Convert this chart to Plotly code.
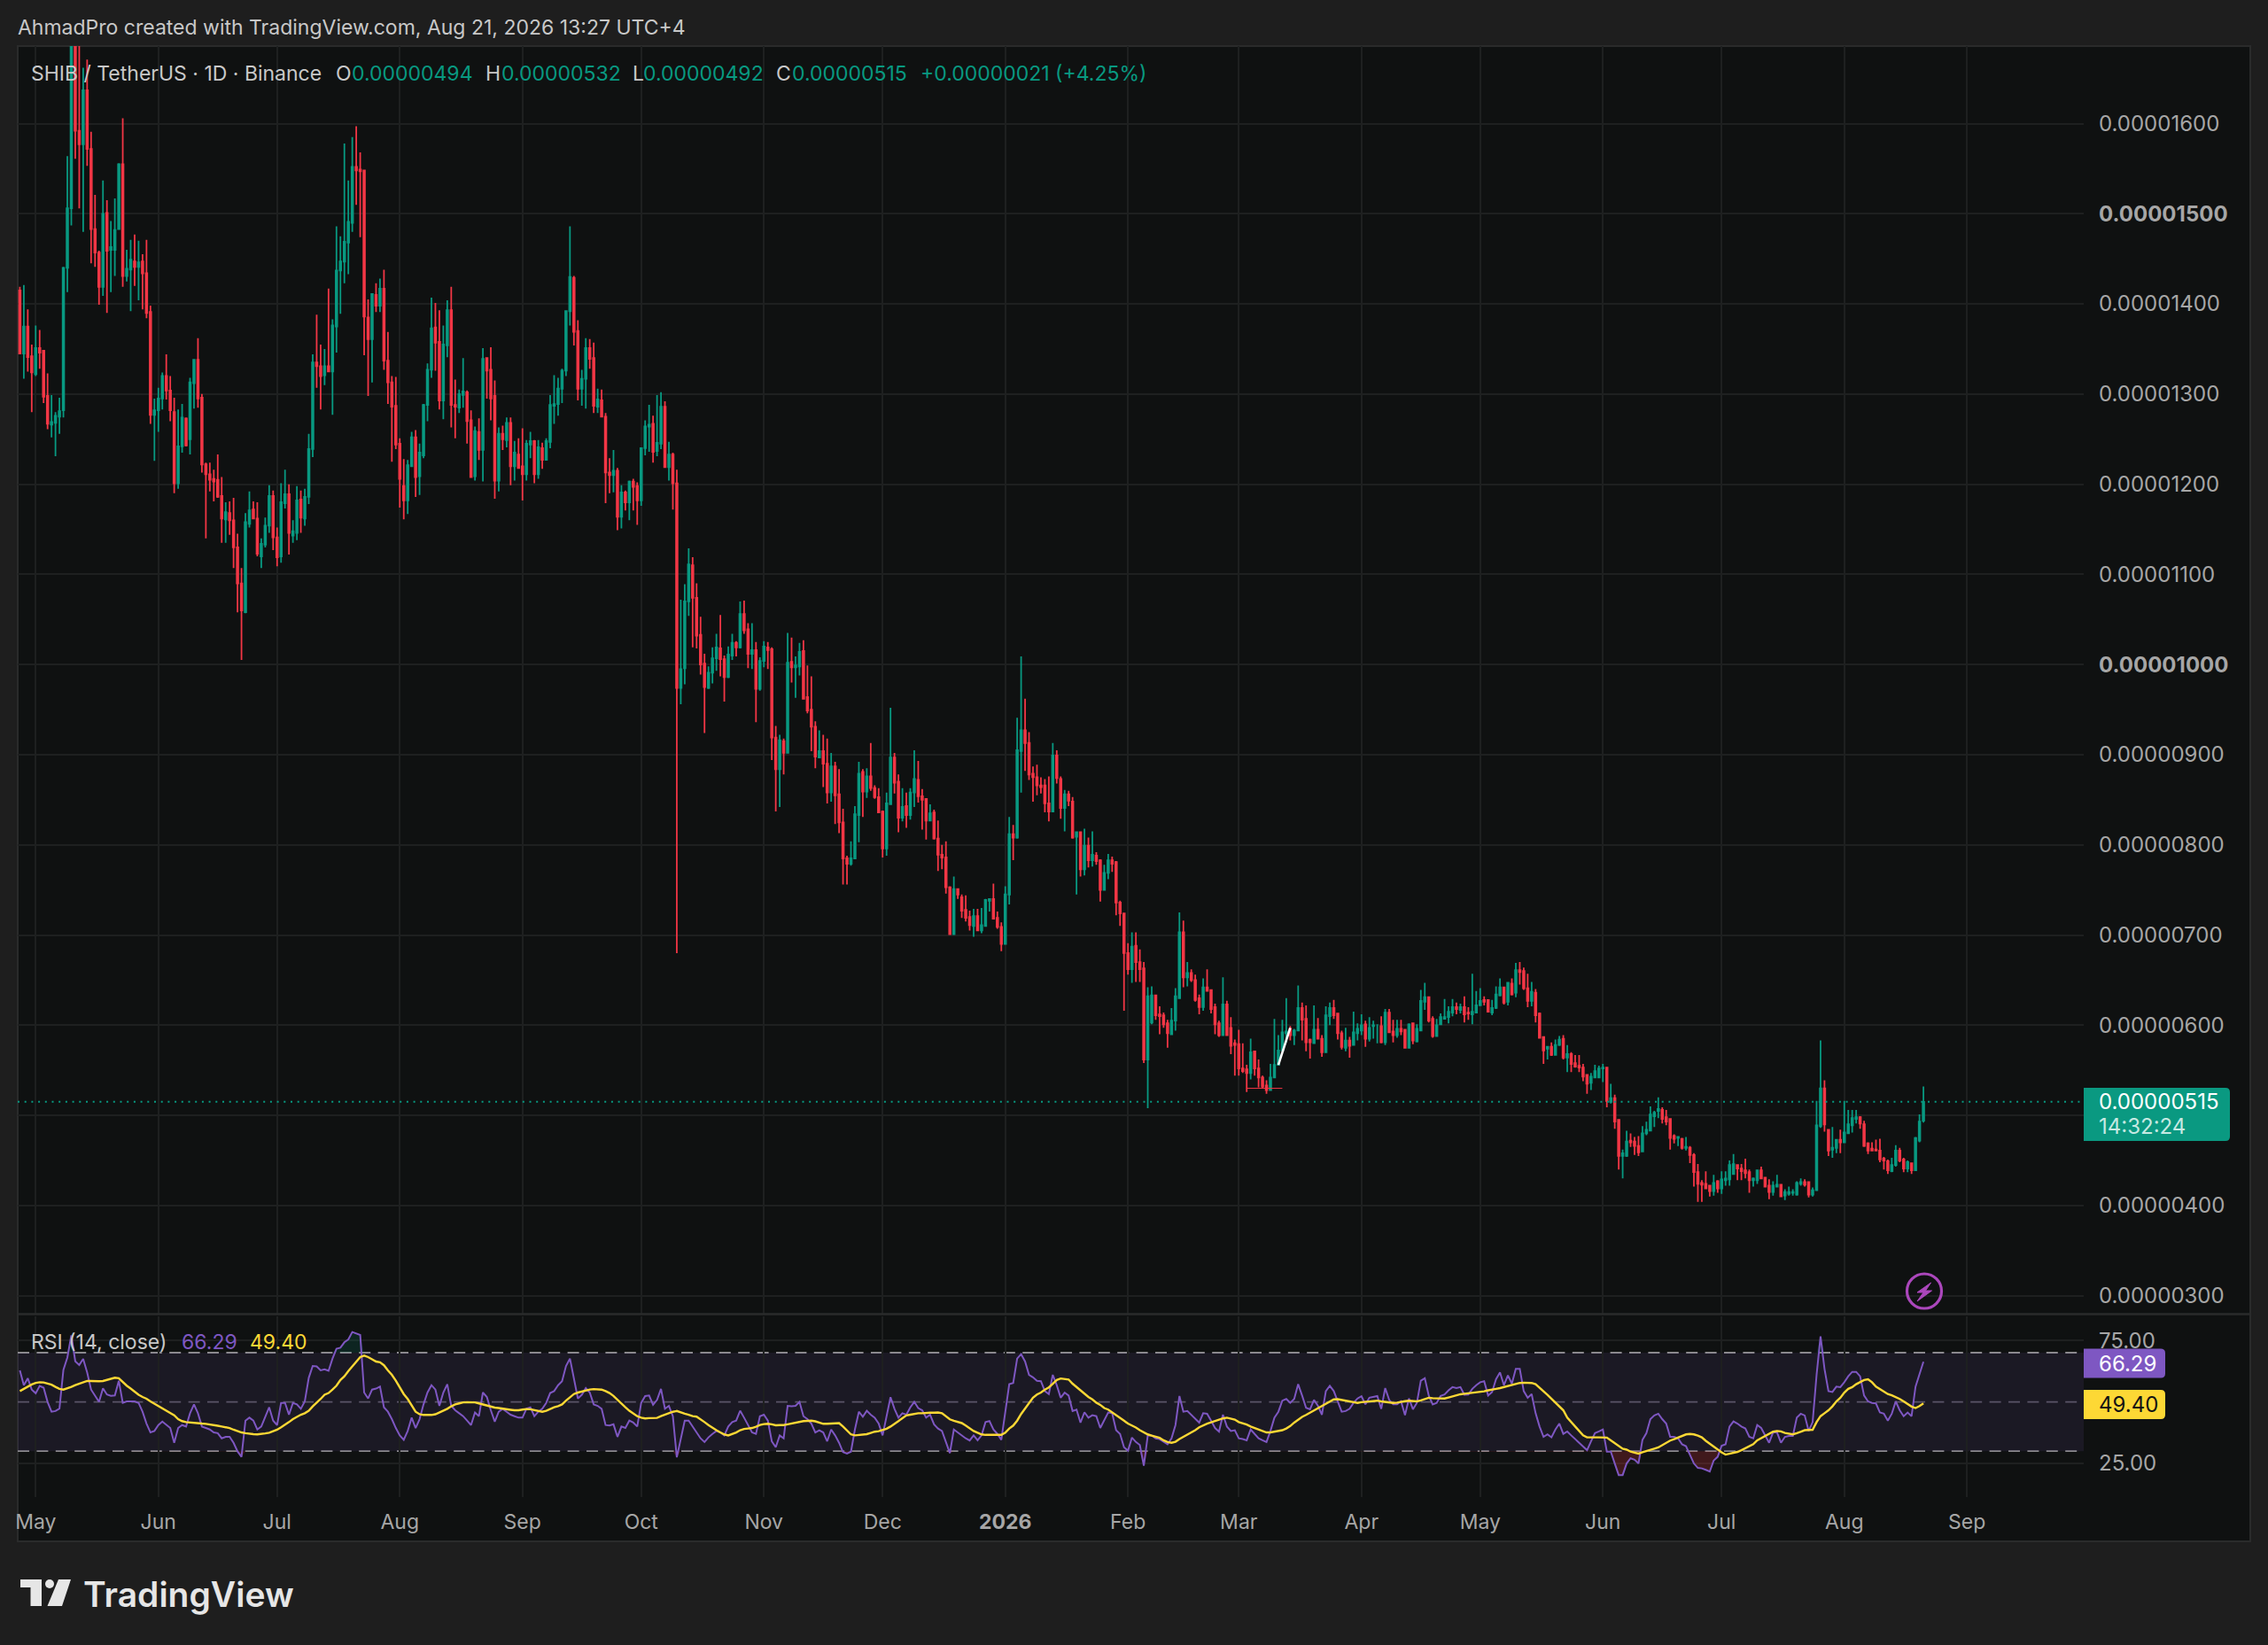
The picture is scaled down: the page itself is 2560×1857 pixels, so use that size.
import numpy as np
import pandas as pd
import plotly.graph_objects as go

# prices are in units of 0.00000001 SHIB/USDT, one candle per day
opens = [
    1415, 1345, 1375, 1342, 1322, 1351, 1348, 1298, 1266, 1268,
    1275, 1282, 1440, 1506, 1685, 1592, 1577, 1637, 1572, 1483,
    1457, 1419, 1501, 1460, 1460, 1483, 1555, 1431, 1438, 1447,
    1441, 1447, 1434, 1391, 1277, 1282, 1295, 1320, 1304, 1280,
    1201, 1242, 1273, 1250, 1312, 1338, 1296, 1222, 1211, 1206,
    1205, 1187, 1161, 1168, 1160, 1130, 1090, 1058, 1156, 1172,
    1162, 1120, 1133, 1154, 1187, 1141, 1120, 1179, 1189, 1143,
    1146, 1183, 1162, 1186, 1239, 1335, 1331, 1321, 1331, 1325,
    1375, 1437, 1447, 1468, 1490, 1552, 1549, 1548, 1385, 1361,
    1410, 1398, 1417, 1337, 1313, 1287, 1245, 1198, 1182, 1220,
    1252, 1209, 1232, 1288, 1327, 1374, 1358, 1293, 1354, 1393,
    1288, 1285, 1299, 1302, 1271, 1209, 1258, 1238, 1340, 1327,
    1298, 1204, 1256, 1249, 1268, 1220, 1233, 1220, 1211, 1244,
    1248, 1211, 1240, 1227, 1247, 1287, 1289, 1306, 1326, 1392,
    1429, 1370, 1306, 1317, 1351, 1340, 1286, 1293, 1275, 1213,
    1210, 1215, 1164, 1191, 1180, 1203, 1198, 1182, 1240, 1264,
    1267, 1237, 1245, 1286, 1219, 1233, 1201, 974, 996, 1070,
    1110, 1074, 1033, 1001, 974, 991, 1007, 1018, 1006, 986,
    1010, 1024, 1019, 1056, 1039, 1012, 1016, 973, 1004, 1019,
    1017, 919, 884, 915, 902, 1003, 997, 998, 1015, 964,
    950, 931, 897, 904, 890, 858, 887, 856, 825, 785,
    779, 785, 833, 881, 859, 876, 863, 853, 837, 796,
    845, 897, 870, 830, 843, 833, 858, 872, 854, 851,
    827, 836, 807, 789, 786, 753, 701, 751, 742, 728,
    720, 710, 721, 705, 710, 738, 740, 719, 709, 690,
    745, 812, 808, 904, 927, 913, 879, 875, 866, 866,
    846, 837, 899, 873, 841, 856, 848, 809, 814, 773,
    799, 783, 788, 783, 750, 769, 783, 781, 736, 724,
    680, 662, 688, 670, 663, 562, 603, 633, 612, 611,
    602, 590, 605, 630, 703, 653, 658, 650, 630, 620,
    642, 639, 620, 602, 589, 623, 597, 580, 579, 552,
    551, 547, 571, 552, 542, 533, 528, 542, 556, 572,
    591, 596, 589, 594, 619, 607, 584, 580, 595, 585,
    570, 610, 619, 613, 591, 575, 583, 578, 591, 594,
    601, 585, 599, 600, 599, 581, 614, 593, 589, 596,
    595, 575, 602, 582, 594, 626, 631, 607, 588, 601,
    607, 609, 614, 620, 617, 620, 614, 612, 614, 622,
    628, 628, 614, 619, 633, 642, 626, 646, 636, 661,
    660, 641, 627, 636, 613, 587, 574, 576, 567, 578,
    585, 564, 568, 558, 555, 553, 545, 536, 542, 542,
    552, 553, 515, 519, 495, 455, 455, 472, 471, 466,
    460, 480, 483, 499, 505, 506, 498, 496, 477, 475,
    474, 464, 464, 456, 437, 425, 424, 422, 416, 427,
    419, 428, 429, 435, 445, 441, 439, 437, 428, 428,
    439, 431, 422, 415, 421, 423, 411, 413, 414, 412,
    424, 426, 426, 412, 417, 488, 530, 484, 462, 464,
    473, 470, 480, 489, 496, 498, 490, 469, 463, 462,
    461, 452, 449, 438, 445, 461, 451, 441, 447, 439,
    472, 494,
]
closes = [
    1345, 1375, 1341, 1324, 1351, 1346, 1297, 1267, 1269, 1276,
    1281, 1440, 1506, 1685, 1592, 1577, 1637, 1572, 1483, 1457,
    1419, 1500, 1459, 1463, 1482, 1555, 1431, 1439, 1449, 1441,
    1446, 1434, 1390, 1277, 1282, 1295, 1320, 1304, 1282, 1201,
    1242, 1274, 1243, 1313, 1338, 1295, 1222, 1211, 1205, 1203,
    1186, 1162, 1169, 1160, 1130, 1090, 1060, 1158, 1171, 1162,
    1123, 1134, 1154, 1187, 1141, 1119, 1180, 1189, 1146, 1148,
    1182, 1163, 1186, 1239, 1335, 1331, 1320, 1331, 1325, 1376,
    1437, 1447, 1469, 1491, 1552, 1548, 1547, 1386, 1361, 1411,
    1398, 1417, 1337, 1313, 1286, 1244, 1206, 1182, 1221, 1252,
    1208, 1235, 1288, 1327, 1373, 1357, 1293, 1355, 1393, 1288,
    1286, 1300, 1303, 1270, 1208, 1259, 1238, 1339, 1326, 1295,
    1204, 1256, 1250, 1268, 1220, 1235, 1218, 1211, 1245, 1248,
    1211, 1241, 1227, 1248, 1288, 1289, 1306, 1326, 1392, 1430,
    1369, 1306, 1317, 1351, 1339, 1287, 1294, 1275, 1213, 1210,
    1215, 1164, 1191, 1180, 1203, 1197, 1182, 1240, 1264, 1266,
    1236, 1246, 1286, 1219, 1233, 1201, 974, 995, 1070, 1111,
    1074, 1032, 1000, 975, 991, 1007, 1019, 1006, 986, 1011,
    1024, 1019, 1056, 1038, 1012, 1016, 973, 1004, 1020, 1016,
    919, 884, 916, 902, 1002, 997, 999, 1014, 962, 949,
    931, 898, 904, 890, 858, 887, 855, 825, 785, 779,
    785, 834, 879, 859, 876, 863, 853, 836, 796, 846,
    897, 869, 830, 842, 833, 858, 873, 854, 850, 827,
    835, 807, 789, 786, 753, 701, 751, 745, 727, 719,
    711, 721, 705, 711, 739, 740, 718, 709, 690, 745,
    812, 808, 905, 927, 913, 878, 875, 866, 864, 846,
    837, 899, 874, 841, 856, 849, 808, 814, 773, 799,
    783, 789, 782, 750, 769, 783, 779, 736, 724, 680,
    662, 687, 670, 662, 562, 632, 633, 611, 610, 601,
    591, 605, 632, 703, 653, 658, 650, 628, 620, 642,
    638, 618, 601, 589, 623, 589, 577, 578, 552, 549,
    547, 570, 552, 542, 532, 528, 542, 556, 572, 592,
    593, 589, 594, 619, 606, 581, 581, 595, 585, 570,
    611, 619, 611, 591, 576, 583, 577, 592, 596, 600,
    585, 597, 600, 600, 581, 614, 592, 589, 596, 593,
    575, 601, 583, 596, 627, 631, 605, 588, 600, 609,
    609, 615, 620, 618, 620, 612, 613, 615, 622, 627,
    626, 615, 619, 634, 642, 625, 647, 634, 661, 659,
    641, 627, 637, 611, 586, 572, 576, 567, 578, 584,
    564, 568, 557, 554, 553, 543, 535, 543, 549, 552,
    553, 516, 519, 493, 455, 458, 471, 470, 466, 459,
    480, 484, 501, 503, 507, 496, 493, 475, 474, 476,
    464, 465, 456, 437, 424, 423, 419, 416, 425, 419,
    429, 430, 445, 446, 441, 438, 436, 428, 430, 439,
    430, 421, 415, 422, 423, 410, 415, 415, 415, 425,
    426, 423, 412, 417, 489, 530, 490, 461, 464, 473,
    470, 481, 490, 497, 498, 491, 466, 461, 461, 461,
    451, 450, 439, 445, 461, 450, 441, 448, 439, 475,
    493, 515,
]
highs = [
    1419, 1421, 1394, 1355, 1376, 1371, 1349, 1323, 1299, 1280,
    1296, 1441, 1564, 1720, 1730, 1720, 1662, 1671, 1591, 1521,
    1459, 1537, 1515, 1492, 1517, 1556, 1606, 1460, 1471, 1477,
    1470, 1455, 1471, 1398, 1295, 1307, 1324, 1344, 1320, 1296,
    1283, 1289, 1274, 1318, 1338, 1362, 1300, 1224, 1224, 1216,
    1233, 1208, 1180, 1181, 1185, 1145, 1107, 1168, 1192, 1181,
    1180, 1140, 1163, 1199, 1193, 1152, 1201, 1216, 1200, 1160,
    1198, 1193, 1195, 1256, 1344, 1388, 1355, 1350, 1417, 1383,
    1486, 1475, 1578, 1537, 1585, 1597, 1568, 1548, 1405, 1411,
    1423, 1428, 1438, 1369, 1320, 1319, 1251, 1228, 1227, 1258,
    1260, 1245, 1289, 1334, 1407, 1401, 1393, 1376, 1404, 1419,
    1316, 1305, 1340, 1304, 1282, 1264, 1273, 1351, 1341, 1352,
    1315, 1263, 1265, 1274, 1274, 1248, 1251, 1262, 1249, 1258,
    1249, 1249, 1246, 1251, 1299, 1321, 1318, 1328, 1393, 1486,
    1431, 1382, 1327, 1362, 1361, 1357, 1306, 1305, 1279, 1229,
    1238, 1218, 1199, 1193, 1204, 1206, 1202, 1241, 1271, 1288,
    1276, 1299, 1302, 1292, 1247, 1235, 1216, 1072, 1089, 1129,
    1119, 1090, 1053, 1012, 998, 1019, 1034, 1055, 1010, 1020,
    1034, 1026, 1070, 1071, 1046, 1046, 1025, 1008, 1026, 1025,
    1019, 932, 922, 918, 1035, 1030, 1009, 1024, 1027, 999,
    987, 937, 927, 922, 918, 902, 892, 884, 840, 788,
    804, 843, 892, 884, 885, 913, 866, 863, 838, 858,
    952, 902, 878, 863, 858, 863, 905, 893, 862, 851,
    845, 839, 827, 800, 804, 754, 765, 751, 745, 744,
    727, 729, 729, 730, 740, 740, 757, 726, 714, 754,
    831, 822, 941, 1009, 962, 925, 887, 889, 875, 873,
    876, 913, 905, 876, 861, 860, 853, 815, 815, 818,
    808, 815, 792, 784, 778, 790, 787, 782, 738, 724,
    691, 703, 703, 684, 670, 642, 643, 633, 621, 614,
    606, 619, 641, 725, 716, 670, 662, 656, 634, 652,
    662, 639, 624, 605, 653, 627, 609, 584, 595, 580,
    556, 585, 571, 562, 544, 539, 557, 607, 589, 606,
    630, 599, 596, 644, 625, 622, 585, 622, 608, 589,
    621, 625, 628, 613, 594, 597, 587, 615, 602, 612,
    605, 609, 605, 601, 610, 618, 618, 606, 606, 606,
    596, 602, 603, 601, 639, 647, 631, 610, 607, 613,
    629, 621, 629, 625, 624, 632, 620, 657, 638, 641,
    632, 628, 628, 643, 652, 642, 648, 652, 669, 670,
    664, 657, 648, 640, 614, 587, 576, 581, 584, 588,
    589, 578, 570, 567, 567, 557, 545, 547, 556, 555,
    557, 554, 535, 523, 496, 462, 483, 480, 476, 477,
    488, 493, 510, 505, 520, 509, 506, 496, 479, 477,
    475, 476, 466, 458, 446, 428, 438, 423, 434, 428,
    438, 438, 450, 457, 445, 446, 452, 440, 431, 440,
    443, 431, 429, 427, 434, 423, 418, 421, 418, 427,
    430, 429, 426, 420, 516, 583, 539, 484, 487, 473,
    484, 516, 506, 506, 506, 499, 494, 470, 470, 473,
    474, 454, 451, 453, 467, 464, 453, 450, 447, 476,
    501, 532,
]
lows = [
    1344, 1317, 1325, 1280, 1320, 1328, 1290, 1261, 1252, 1231,
    1256, 1274, 1413, 1487, 1561, 1506, 1480, 1553, 1445, 1441,
    1399, 1409, 1390, 1413, 1431, 1483, 1419, 1425, 1392, 1420,
    1404, 1394, 1384, 1267, 1226, 1258, 1283, 1294, 1270, 1190,
    1195, 1235, 1242, 1233, 1284, 1285, 1213, 1140, 1192, 1181,
    1185, 1135, 1135, 1144, 1107, 1058, 1005, 1057, 1152, 1162,
    1120, 1107, 1130, 1146, 1127, 1109, 1113, 1173, 1122, 1135,
    1138, 1146, 1154, 1178, 1230, 1307, 1283, 1310, 1325, 1277,
    1346, 1389, 1423, 1433, 1480, 1510, 1474, 1343, 1298, 1313,
    1391, 1391, 1327, 1289, 1225, 1239, 1174, 1161, 1167, 1220,
    1186, 1188, 1229, 1270, 1318, 1326, 1283, 1272, 1341, 1263,
    1251, 1279, 1285, 1245, 1207, 1204, 1227, 1203, 1295, 1271,
    1184, 1192, 1238, 1241, 1199, 1204, 1217, 1182, 1204, 1229,
    1201, 1206, 1217, 1227, 1240, 1267, 1276, 1290, 1320, 1376,
    1354, 1293, 1287, 1284, 1328, 1279, 1279, 1275, 1179, 1190,
    1191, 1149, 1151, 1171, 1160, 1171, 1155, 1176, 1232, 1236,
    1224, 1231, 1239, 1218, 1204, 1172, 680, 956, 978, 1054,
    1019, 1018, 989, 924, 973, 979, 993, 987, 959, 985,
    1005, 1009, 1018, 1034, 996, 995, 936, 971, 997, 995,
    894, 837, 842, 878, 902, 980, 963, 988, 962, 946,
    904, 885, 896, 864, 846, 848, 823, 813, 756, 756,
    777, 784, 803, 831, 852, 860, 851, 836, 786, 788,
    845, 857, 814, 826, 819, 828, 842, 847, 817, 806,
    827, 806, 771, 773, 746, 701, 700, 740, 719, 715,
    705, 698, 705, 702, 710, 726, 718, 707, 682, 690,
    734, 783, 807, 858, 882, 872, 848, 855, 857, 836,
    826, 836, 868, 829, 815, 843, 807, 745, 765, 766,
    775, 776, 778, 737, 750, 762, 770, 722, 710, 616,
    656, 647, 648, 648, 558, 508, 601, 606, 590, 597,
    575, 590, 594, 630, 642, 643, 648, 626, 612, 616,
    638, 613, 590, 587, 589, 588, 568, 544, 544, 547,
    526, 540, 544, 531, 530, 524, 527, 541, 556, 571,
    581, 583, 578, 594, 583, 571, 563, 580, 584, 565,
    569, 600, 607, 584, 573, 571, 564, 578, 583, 589,
    576, 582, 585, 580, 580, 578, 592, 581, 586, 589,
    574, 574, 579, 581, 594, 617, 603, 586, 588, 601,
    607, 602, 610, 612, 613, 603, 606, 601, 614, 622,
    622, 614, 611, 618, 632, 623, 622, 633, 631, 645,
    639, 620, 621, 603, 585, 557, 562, 566, 567, 577,
    562, 548, 548, 553, 548, 538, 524, 528, 542, 541,
    537, 509, 513, 485, 440, 430, 454, 465, 456, 455,
    460, 478, 483, 487, 497, 491, 489, 462, 469, 466,
    462, 461, 447, 421, 404, 404, 419, 410, 411, 414,
    413, 422, 422, 435, 428, 428, 430, 414, 421, 424,
    430, 420, 407, 411, 420, 410, 406, 411, 411, 411,
    422, 421, 409, 410, 417, 486, 482, 455, 453, 458,
    458, 470, 480, 481, 491, 485, 465, 457, 461, 460,
    448, 440, 435, 437, 443, 448, 437, 437, 435, 439,
    470, 492,
]
rsi = [
    62.8, 56.8, 59.6, 55, 53.5, 56.5, 55.8, 50, 46, 46.3,
    47.3, 63, 68, 77, 66.5, 65, 67.5, 62, 55, 52.5,
    50, 55.5, 53, 52.5, 52.6, 58.6, 49.6, 50.2, 50.2, 50.2,
    49.6, 46, 41.2, 37.6, 38.2, 40.6, 42, 40.6, 39.4, 33.4,
    39.4, 40.6, 40, 45.4, 49, 45.4, 40, 39.4, 38.8, 37.6,
    37.3, 35.2, 35.8, 35.8, 33.4, 29.9, 27.7, 42.4, 43.6, 42.4,
    38.8, 40, 43.6, 47.8, 42.4, 40.6, 49.6, 49.6, 44.8, 49.6,
    49, 47.2, 50.2, 59.8, 64.6, 64.4, 62.8, 63.2, 62.6, 67.6,
    71.6, 72, 74.2, 75.4, 78.4, 77.8, 77.2, 53.8, 51.4, 55,
    55.4, 56.2, 47.8, 46, 43, 39.4, 36.4, 34.6, 38.2, 43.6,
    39.4, 43, 49, 53.8, 56.8, 55, 48.4, 53.8, 57.2, 48.4,
    46.6, 45.4, 44.2, 42.4, 40.6, 45.7, 44.2, 53.8, 52, 46.6,
    42, 46, 47.2, 46, 44.8, 44.2, 43.6, 43.6, 47.2, 47.8,
    44.2, 46, 47.2, 49.6, 53.6, 54.4, 56.8, 58.4, 64.6, 67.6,
    59.8, 51.4, 52.9, 55.6, 53.8, 49, 48.4, 47.2, 40.6, 40.4,
    40.9, 35.8, 40, 39.4, 42.4, 41.6, 40, 49.6, 52.4, 52.6,
    48.8, 50.8, 55.3, 47.2, 48.4, 44.2, 27.5, 34.6, 42.4, 42.4,
    40, 37.6, 35.2, 33.7, 35.6, 37, 38.2, 37.6, 36.4, 40,
    41.8, 42.4, 46.4, 43.6, 40.6, 37.6, 37, 44.2, 44.8, 42.4,
    34, 31.6, 36.4, 35.2, 48.4, 48.2, 48.4, 50, 44.2, 43,
    41.2, 37.6, 38.5, 37.6, 34, 38.8, 36.4, 33.4, 29.6, 29,
    29.8, 38.8, 46, 44, 46.4, 44.8, 43.6, 41.2, 36.4, 44.2,
    51.9, 47.2, 43.6, 45.4, 44.8, 47.8, 50, 47.5, 46.6, 43.6,
    44.8, 40.9, 39.2, 38.2, 33.4, 29.2, 38.8, 37.6, 36.1, 35.2,
    34.3, 36.4, 34.4, 36.4, 41.8, 42.2, 38.8, 37, 34.6, 45.4,
    57.2, 57.7, 67.6, 69.4, 66.4, 61, 60, 58.6, 58.4, 54.4,
    53.2, 61, 56.8, 51.7, 53.8, 52.6, 46.3, 46.9, 41.6, 45.8,
    43.6, 44.6, 44.2, 39.4, 42.4, 45.7, 45.4, 38.5, 37, 31.6,
    30.2, 35.5, 33.7, 32.5, 24.1, 36.4, 36.4, 35.2, 34.9, 33.7,
    32.8, 35.2, 40.6, 52.4, 46, 46.3, 44.8, 43, 41.6, 45.4,
    45.2, 42.4, 39.4, 37.9, 44.8, 40, 38.2, 38.5, 35.2, 34.9,
    34.4, 38.8, 36.8, 35.2, 34.4, 33.7, 38.2, 43.6, 46, 50.5,
    51.2, 49.6, 51.2, 57.2, 52.6, 47.6, 47, 50.8, 48.4, 44.8,
    54.4, 56.5, 54.4, 50.2, 46, 46.3, 47.2, 49.6, 51.4, 52.3,
    49, 51.7, 52, 52.4, 47.2, 55.6, 50.8, 49, 49, 50.2,
    44.6, 51.4, 47, 49.6, 58.6, 59.6, 52.6, 49, 49.6, 52.4,
    53, 54.7, 56, 55.6, 56, 52.9, 53, 55.3, 56.8, 58,
    58.4, 52.6, 54, 59.2, 62, 56.8, 60.8, 57.4, 63.4, 63.4,
    54.4, 51.7, 53.2, 45.4, 40, 35.8, 36.8, 35.6, 38.8, 41.2,
    37, 38, 36.4, 34.9, 33.7, 32, 30.4, 34, 37.3, 38,
    38.8, 29.8, 29.8, 25, 20.3, 20.3, 25, 27.1, 26.5, 25,
    34.6, 37.3, 43, 44.5, 45.2, 43, 41.2, 35.8, 35.8, 35.2,
    32.8, 32, 28.6, 25, 23.2, 23, 22.4, 21.7, 26.2, 27.7,
    32.2, 32.8, 40, 42.1, 41.2, 40, 39.2, 35.8, 35.2, 40.6,
    39.4, 36.1, 33.4, 37.6, 37.6, 33.4, 35.8, 36.2, 36.2, 43.6,
    45.2, 44.5, 38.2, 41.8, 61, 76.6, 63.4, 54.4, 54, 56.2,
    56, 58, 60.4, 62.2, 62.2, 60.4, 52.6, 50.2, 49.6, 49.4,
    45.7, 45.2, 42.4, 45.2, 50.2, 46.6, 44.2, 45.7, 44.2, 56.2,
    61.6, 66.29,
]
rsi_ma = [
    54.4, 55.4, 56.2, 57.1, 57.7, 58, 57.9, 57.5, 57, 56.1,
    55.3, 55, 55.5, 56.1, 56.8, 57.4, 58, 58.5, 58.5, 58.4,
    58.4, 58.5, 58.9, 59.2, 59.8, 59.6, 58, 56.6, 55.4, 54.1,
    52.9, 52, 51.3, 50.2, 49.3, 48.4, 47.6, 46.6, 45.8, 44.6,
    43, 42.2, 41.8, 41.6, 41.4, 41.2, 41.2, 41.1, 40.9, 40.6,
    40.3, 40, 39.8, 39.4, 38.7, 38.1, 37.6, 37.3, 37, 36.9,
    36.8, 36.9, 37.2, 37.5, 38, 38.7, 39.7, 40.6, 41.8, 43,
    44, 44.8, 45.4, 46.4, 48.2, 49.6, 51.2, 52.9, 53.6, 55,
    56.6, 58.9, 60.4, 62.5, 64.4, 66.4, 68.2, 68.8, 68.2, 67.3,
    66.4, 66.1, 64.9, 62.8, 61, 58.6, 55.9, 53.2, 51.2, 48.8,
    46, 45, 44.7, 44.7, 44.7, 45, 45.7, 46.4, 47.2, 48.2,
    49, 49.4, 49.8, 49.9, 49.9, 49.8, 49.4, 49, 48.4, 48,
    47.7, 47.5, 47.2, 47, 46.8, 46.6, 46.6, 46.9, 47.1, 47,
    46.6, 46.4, 46, 46.4, 47.2, 47.8, 48.3, 49, 50.5, 52,
    53.2, 53.8, 54.2, 54.7, 55, 55.2, 55.2, 55, 54.4, 53.6,
    52.4, 50.8, 49.4, 47.8, 46.4, 45.2, 44.2, 43.6, 43.3, 43.4,
    43.4, 43.5, 44.2, 44.8, 45.4, 46, 46.3, 45.7, 45.2, 44.8,
    44.2, 44, 43, 41.8, 40.6, 39.4, 38.5, 37.6, 36.8, 36.4,
    37, 37.6, 38.5, 39, 39.2, 39.4, 39.9, 40.6, 41, 41.1,
    40.9, 40.5, 40.6, 40.6, 40.9, 41.2, 41.7, 42, 42.2, 42.3,
    42.4, 42.1, 41.6, 41.1, 41.1, 41.2, 41.4, 41.4, 40, 38.2,
    36.8, 36.4, 36.6, 36.7, 36.9, 37.4, 37.9, 38.1, 38.5, 39.1,
    40, 41, 42.2, 43.4, 44.5, 44.8, 45.2, 45.4, 45.4, 45.6,
    45.6, 45.6, 45.7, 45.4, 44.1, 42.9, 42.3, 41.8, 41.4, 40.4,
    39.2, 38.2, 37.5, 36.8, 36.6, 36.6, 36.6, 36.6, 36.6, 37.5,
    39.2, 40.4, 42.4, 45.1, 47.3, 49.6, 51.7, 53, 53.8, 55,
    55.9, 57.4, 58.9, 59.5, 59.3, 59.1, 57.4, 56, 54.7, 53.3,
    52, 51, 49.7, 48.8, 47.5, 46.9, 45.8, 44.6, 43.8, 42.4,
    41.2, 40.4, 39.6, 38.5, 37.5, 36.8, 36.3, 35.8, 35.4, 34.4,
    33.7, 33.4, 33.8, 34.9, 35.8, 36.7, 37.5, 38.5, 39.7, 40.6,
    41.2, 41.7, 42.3, 42.8, 43.3, 43.6, 43.3, 42.8, 41.8, 41.4,
    40.8, 40, 39.4, 38.8, 38.1, 37.6, 37.6, 37.9, 38, 38.5,
    39.2, 40.2, 41.6, 42.8, 43.9, 44.7, 45.6, 46.4, 47.3, 48.3,
    49, 50, 51, 51.1, 50.8, 50.6, 50.3, 50, 49.6, 49.9,
    50.1, 50.3, 50.5, 50.5, 50.2, 50, 49.7, 49.6, 49.7, 50.1,
    50.3, 50.5, 50.3, 50.2, 50.6, 51.2, 51.7, 51.5, 51.4, 51.4,
    51.4, 51.8, 52.3, 52.7, 53.1, 53.3, 53.5, 53.7, 53.8, 53.9,
    54.3, 54.7, 54.9, 55.3, 55.6, 56, 56.3, 56.8, 57.3, 57.7,
    57.8, 57.8, 57.7, 57.2, 55.9, 54.3, 52.9, 51.4, 49.6, 48.4,
    46.6, 43.6, 41.8, 40.4, 38.5, 36.4, 35.6, 35.5, 35.6, 35.6,
    35.6, 35.5, 34.4, 33.2, 32, 31, 30.6, 29.8, 29.4, 29,
    29.6, 30, 30.6, 31, 31.5, 32.5, 33.4, 34.3, 34.9, 35.5,
    36.3, 36.8, 37, 36.8, 36.3, 35.6, 34.2, 33, 31.9, 30.6,
    29.5, 28.6, 28.9, 29.2, 29.7, 30.4, 31.3, 32, 32.8, 34.4,
    35.2, 36.2, 37, 37.9, 38.2, 38, 37.4, 37, 36.8, 37.3,
    37.9, 38.5, 38.6, 38.7, 41.8, 44.2, 45.4, 46.6, 48.2, 50.2,
    51.7, 53.8, 55.3, 56, 57.2, 58, 58.9, 59.2, 58, 56.2,
    55.3, 54.4, 53.2, 52.7, 52, 51.2, 50.2, 49, 48.1, 47.5,
    48.3, 49.40,
]

first_day = "2025-04-27"
price_ticks = [300, 400, 500, 600, 700, 800, 900, 1000, 1100, 1200, 1300, 1400, 1500, 1600]
bold_price_ticks = [1000, 1500]
hidden_price_ticks = [500]  # sits behind the last price label
rsi_ticks = [25, 75]
month_starts = ["2025-05-01", "2025-06-01", "2025-07-01", "2025-08-01", "2025-09-01", "2025-10-01",
                "2025-11-01", "2025-12-01", "2026-01-01", "2026-02-01", "2026-03-01", "2026-04-01",
                "2026-05-01", "2026-06-01", "2026-07-01", "2026-08-01", "2026-09-01"]
month_labels = ["May", "Jun", "Jul", "Aug", "Sep", "Oct", "Nov", "Dec", "<b>2026</b>", "Feb", "Mar", "Apr",
                "May", "Jun", "Jul", "Aug", "Sep"]

assert len(opens) == len(closes) == len(highs) == len(lows) == len(rsi) == len(rsi_ma), (
    len(opens), len(closes), len(highs), len(lows), len(rsi), len(rsi_ma))

UNIT = 1e-8
GREEN = "#089981"
RED = "#f23645"
PURPLE = "#7e57c2"
YELLOW = "#fdd835"
TEXT = "#c8c8c8"
AXIS_TEXT = "#a6a6a6"
GRID = "#1e2020"
FONT = "Inter"

# plot area in page pixels
LEFT, RIGHT, TOP, BOTTOM = 20, 2352, 52, 1690
MAIN_BOTTOM, RSI_TOP = 1483, 1486


def px(x):
    return (x - LEFT) / (RIGHT - LEFT)


def py(y):
    return (BOTTOM - y) / (BOTTOM - TOP)


def rounded_box(x0, y0, x1, y1, r=5):
    # square on the left, rounded on the right, like the scale labels
    return (f"M {px(x0)} {py(y0)} L {px(x1 - r)} {py(y0)} Q {px(x1)} {py(y0)} {px(x1)} {py(y0 + r)} "
            f"L {px(x1)} {py(y1 - r)} Q {px(x1)} {py(y1)} {px(x1 - r)} {py(y1)} L {px(x0)} {py(y1)} Z")


def poly(points):
    return "M " + " L ".join(f"{px(x)} {py(y)}" for x, y in points) + " Z"


def label(x, y, text, color=TEXT, size=23, weight=None):
    font = dict(family=FONT, size=size, color=color)
    if weight:
        font["weight"] = weight
    return dict(xref="paper", yref="paper", x=px(x), y=py(y), text=text, showarrow=False, xanchor="left",
                yanchor="middle", align="left", borderpad=0, borderwidth=0, font=font)


def price_label(t):
    if t in hidden_price_ticks:
        return ""
    if t in bold_price_ticks:
        return f"<b>{t * UNIT:.8f}</b>"
    return f"{t * UNIT:.8f}"


dates = pd.date_range(first_day, periods=len(opens), freq="D")
rsi_arr = np.array(rsi)

fig = go.Figure()

fig.add_trace(go.Candlestick(
    x=dates,
    open=np.array(opens) * UNIT,
    high=np.array(highs) * UNIT,
    low=np.array(lows) * UNIT,
    close=np.array(closes) * UNIT,
    whiskerwidth=0,
    increasing=dict(line=dict(color=GREEN, width=1.8), fillcolor=GREEN),
    decreasing=dict(line=dict(color=RED, width=1.8), fillcolor=RED),
    showlegend=False,
    yaxis="y",
))

# overbought / oversold shading follows the RSI line itself
for level, clipped, tint in [(30, np.minimum(rsi_arr, 30), "rgba(242,54,69,0.22)"),
                             (70, np.maximum(rsi_arr, 70), "rgba(8,153,129,0.15)")]:
    fig.add_trace(go.Scatter(x=dates, y=[level] * len(dates), mode="lines", line=dict(width=0),
                             showlegend=False, hoverinfo="skip", yaxis="y2"))
    fig.add_trace(go.Scatter(x=dates, y=clipped, mode="lines", line=dict(width=0), fill="tonexty",
                             fillcolor=tint, showlegend=False, hoverinfo="skip", yaxis="y2"))

fig.add_trace(go.Scatter(x=dates, y=rsi, mode="lines", line=dict(color=PURPLE, width=2),
                         showlegend=False, yaxis="y2"))
fig.add_trace(go.Scatter(x=dates, y=rsi_ma, mode="lines", line=dict(color=YELLOW, width=2.4),
                         showlegend=False, yaxis="y2"))

shapes = [
    # chart panel and pane separator
    dict(type="rect", xref="paper", yref="paper", x0=px(20), x1=px(2540), y0=py(52), y1=py(1740),
         fillcolor="#0f1111", line=dict(color="#2a2b2b", width=2), layer="below"),
    dict(type="line", xref="paper", yref="paper", x0=px(20), x1=px(2540), y0=py(1483.5), y1=py(1483.5),
         line=dict(color="#2a2b2b", width=2.5)),
    # RSI band
    dict(type="rect", xref="x", yref="y2", x0=dates[0] - pd.Timedelta(days=6), x1="2026-10-05", y0=30, y1=70,
         fillcolor="rgba(126,87,194,0.11)", line=dict(width=0), layer="below"),
    dict(type="line", xref="paper", yref="y2", x0=0, x1=1, y0=70, y1=70,
         line=dict(color="#8c8c8c", width=1.8, dash="13px,8.4px"), layer="below"),
    dict(type="line", xref="paper", yref="y2", x0=0, x1=1, y0=50, y1=50,
         line=dict(color="#56545e", width=1.6, dash="13px,8.4px"), layer="below"),
    dict(type="line", xref="paper", yref="y2", x0=0, x1=1, y0=30, y1=30,
         line=dict(color="#8c8c8c", width=1.8, dash="13px,8.4px"), layer="below"),
    # last price line
    dict(type="line", xref="paper", yref="y", x0=0, x1=1, y0=closes[-1] * UNIT, y1=closes[-1] * UNIT,
         line=dict(color=GREEN, width=2, dash="2px,5.7px")),
    # user drawings on the chart
    dict(type="line", xref="x", yref="y", x0=dates[310], x1=dates[319], y0=530 * UNIT, y1=530 * UNIT,
         line=dict(color=RED, width=1)),
    dict(type="line", xref="x", yref="y", x0=dates[318], x1=dates[321], y0=556 * UNIT, y1=597 * UNIT,
         line=dict(color="#ffffff", width=2.6)),
    # scale labels
    dict(type="path", xref="paper", yref="paper", path=rounded_box(2352, 1228, 2517, 1288), fillcolor="#0a9981",
         line=dict(width=0)),
    dict(type="path", xref="paper", yref="paper", path=rounded_box(2352, 1522.5, 2444, 1555.5), fillcolor=PURPLE,
         line=dict(width=0)),
    dict(type="path", xref="paper", yref="paper", path=rounded_box(2352, 1569, 2444, 1602), fillcolor=YELLOW,
         line=dict(width=0)),
    # lightning badge
    dict(type="circle", xref="paper", yref="paper", x0=px(2152.5), x1=px(2191.5), y0=py(1438), y1=py(1477),
         fillcolor="rgba(0,0,0,0)", line=dict(color="#ab47bc", width=3.2)),
    dict(type="path", xref="paper", yref="paper", line=dict(color="#ab47bc", width=1), fillcolor="#ab47bc",
         path=poly([(2179.5, 1448), (2164, 1459), (2171, 1459), (2164, 1469), (2180.5, 1457), (2173.5, 1457)])),
    # TradingView mark
    dict(type="path", xref="paper", yref="paper", line=dict(width=0), fillcolor="#e6e6e6",
         path=poly([(23, 1783), (47, 1783), (47, 1813), (34.5, 1813), (34.5, 1792), (23, 1792)])),
    dict(type="circle", xref="paper", yref="paper", x0=px(51), x1=px(61), y0=py(1783), y1=py(1793),
         fillcolor="#e6e6e6", line=dict(width=0)),
    dict(type="path", xref="paper", yref="paper", line=dict(width=0), fillcolor="#e6e6e6",
         path=poly([(66, 1783), (80, 1783), (70, 1813), (53.5, 1813)])),
]

annotations = [
    label(20, 31, "AhmadPro created with TradingView.com, Aug 21, 2026 13:27 UTC+4", size=23),
    label(35, 83, "SHIB / TetherUS · 1D · Binance", size=23),
    label(379, 83, "O", size=23),
    label(397, 83, "0.00000494", GREEN, 23),
    label(548, 83, "H", size=23),
    label(566, 83, "0.00000532", GREEN, 23),
    label(714, 83, "L", size=23),
    label(726, 83, "0.00000492", GREEN, 23),
    label(876, 83, "C", size=23),
    label(894, 83, "0.00000515", GREEN, 23),
    label(1039, 83, "+0.00000021 (+4.25%)", GREEN, 23),
    label(35, 1515, "RSI (14, close)", size=23),
    label(205, 1515, "66.29", PURPLE, 23),
    label(282, 1515, "49.40", YELLOW, 23),
    label(2369, 1243.5, "0.00000515", "#ffffff", 24),
    label(2369, 1271, "14:32:24", "#c6e9e2", 24),
    label(2369, 1539, "66.29", "#ffffff", 24),
    label(2369, 1585.5, "49.40", "#131313", 24),
    label(94, 1799, "TradingView", "#e6e6e6", 39, 600),
]

fig.update_layout(
    width=2560,
    height=1857,
    autosize=False,
    margin=dict(l=LEFT, r=2560 - RIGHT, t=TOP, b=1857 - BOTTOM, pad=0),
    paper_bgcolor="#1e1e1e",
    plot_bgcolor="rgba(0,0,0,0)",
    font=dict(family=FONT, size=24, color=AXIS_TEXT),
    showlegend=False,
    hovermode=False,
    boxgap=0.45,
    xaxis=dict(
        anchor="y2",
        type="date",
        range=["2025-04-26 11:00", "2026-09-30 12:00"],
        rangeslider=dict(visible=False),
        tickmode="array",
        tickvals=month_starts,
        ticktext=month_labels,
        ticks="",
        ticklabelstandoff=12,
        showgrid=True,
        gridcolor=GRID,
        gridwidth=1.5,
        showline=False,
        zeroline=False,
        tickfont=dict(size=23, color=AXIS_TEXT),
    ),
    yaxis=dict(
        domain=[py(MAIN_BOTTOM), 1],
        range=[280 * UNIT, 1686 * UNIT],
        side="right",
        anchor="x",
        tickmode="array",
        tickvals=[t * UNIT for t in price_ticks],
        ticktext=[price_label(t) for t in price_ticks],
        ticks="",
        ticklabelstandoff=16,
        showgrid=True,
        gridcolor=GRID,
        gridwidth=1.5,
        zeroline=False,
        showline=False,
        tickfont=dict(size=24, color=AXIS_TEXT),
    ),
    yaxis2=dict(
        domain=[0, py(RSI_TOP)],
        range=[11.35, 84.75],
        side="right",
        anchor="x",
        tickmode="array",
        tickvals=rsi_ticks,
        ticktext=[f"{t:.2f}" for t in rsi_ticks],
        ticks="",
        ticklabelstandoff=16,
        showgrid=True,
        gridcolor=GRID,
        gridwidth=1.5,
        zeroline=False,
        showline=False,
        tickfont=dict(size=24, color=AXIS_TEXT),
    ),
    shapes=shapes,
    annotations=annotations,
)

fig.write_html("out.html", config=dict(displayModeBar=False),
               post_script="document.body.style.margin='0';")
